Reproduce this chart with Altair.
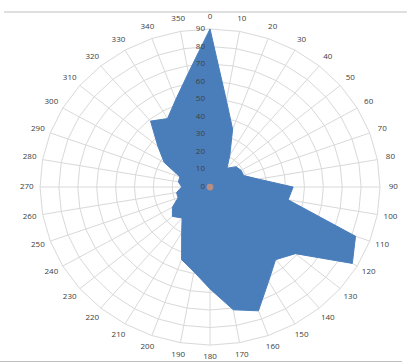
import altair as alt
import pandas as pd

# Category directions (degrees) and series values
angles = [0, 10, 20, 30, 40, 50, 60, 70, 80, 90, 100, 110, 120, 130, 140, 150, 160, 170,
          180, 190, 200, 210, 220, 230, 240, 250, 260, 270, 280, 290, 300, 310, 320, 330, 340, 350]
values = [90, 50, 35, 21, 14, 18, 19, 19, 26, 44, 42, 82, 87, 59, 54, 62, 75, 71,
          58, 49, 44, 30, 23, 26, 23, 18, 18, 15, 17, 17, 28, 36, 49, 45, 53, 66]
ring_values = [10, 20, 30, 40, 50, 60, 70, 80, 90]
axis_max = 90
label_text = [str(a) for a in angles]

# ---- tables built from the lists ----
series = pd.DataFrame({"angle": angles, "value": values, "k": list(range(len(angles)))})
series = pd.concat([series, series.iloc[[0]].assign(k=len(angles))], ignore_index=True)

rings = pd.DataFrame(
    [{"ring": r, "angle": a, "k": i} for r in ring_values for i, a in enumerate(angles + [360])]
)
spokes = pd.DataFrame({"angle": angles, "r": [axis_max] * len(angles)})
cat_labels = pd.DataFrame({"angle": angles, "label": label_text})
val_labels = pd.DataFrame({"v": [0] + ring_values})
center = pd.DataFrame({"v": [0]})

xs = alt.Scale(domain=[-111.2, 104.3], nice=False, zero=False)
ys = alt.Scale(domain=[-100.2, 106.5], nice=False, zero=False)
X = lambda f: alt.X(f, type="quantitative", scale=xs, axis=None)
Y = lambda f: alt.Y(f, type="quantitative", scale=ys, axis=None)
GRID = "#d9d9d9"
BLUE = "#4A7EBB"

ring_layer = alt.Chart(rings).transform_calculate(
    px="datum.ring*sin(datum.angle*PI/180)", py="datum.ring*cos(datum.angle*PI/180)"
).mark_line(color=GRID, strokeWidth=1).encode(
    x=X("px"), y=Y("py"), detail="ring:N", order="k:Q"
)

spoke_layer = alt.Chart(spokes).transform_calculate(
    px="datum.r*sin(datum.angle*PI/180)", py="datum.r*cos(datum.angle*PI/180)", z="0"
).mark_rule(color=GRID, strokeWidth=1).encode(
    x=X("z"), y=Y("z"), x2="px:Q", y2="py:Q"
)

poly = alt.Chart(series).transform_calculate(
    px="datum.value*sin(datum.angle*PI/180)", py="datum.value*cos(datum.angle*PI/180)"
).mark_line(filled=True, fill=BLUE, stroke=BLUE, strokeWidth=1).encode(
    x=X("px"), y=Y("py"), order="k:Q"
)

center_pt = alt.Chart(center).mark_point(
    filled=True, color="#E8956A", opacity=0.7, size=45
).encode(x=X("v"), y=Y("v"))

val_text = alt.Chart(val_labels).transform_calculate(z="0").mark_text(
    align="right", baseline="middle", dx=-5, fontSize=8, font="Open Sans", color="#404040"
).encode(x=X("z"), y=Y("v"), text="v:Q")

cat_text = alt.Chart(cat_labels).transform_calculate(
    px="97*sin(datum.angle*PI/180)", py="97*cos(datum.angle*PI/180)"
).mark_text(
    align="center", baseline="middle", fontSize=8, font="Open Sans", color="#404040"
).encode(x=X("px"), y=Y("py"), text="label:N")

frame_top = alt.Chart(center).mark_rule(color="#bfbfbf", strokeWidth=1).encode(
    x=alt.value(4), x2=alt.value(407), y=alt.value(12)
)
frame_bot = alt.Chart(center).mark_rule(color="#bfbfbf", strokeWidth=1).encode(
    x=alt.value(0), x2=alt.value(402), y=alt.value(361.5)
)

chart = alt.layer(
    ring_layer, spoke_layer, poly, center_pt, val_text, cat_text, frame_top, frame_bot
).properties(
    width=407, height=363, padding=0, autosize=alt.AutoSizeParams(type="none"),
    background="white"
).configure_view(stroke=None)

chart.save("out.html", embed_options={"renderer": "svg", "actions": False})
